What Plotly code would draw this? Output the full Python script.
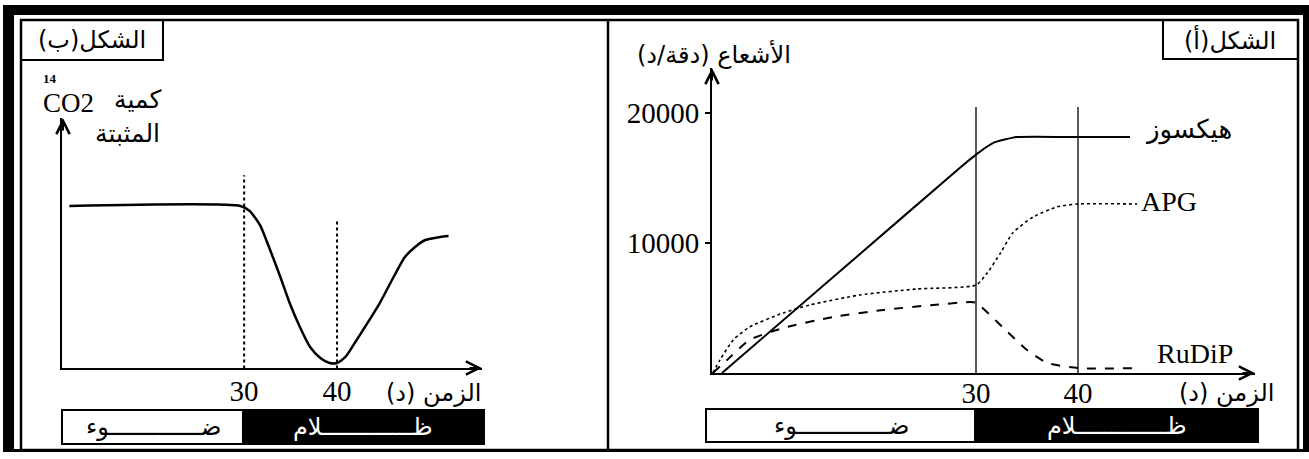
import plotly.graph_objects as go

# الشكل(ب) : كمية 14CO2 المثبتة
t_co2 = [11.2, 29.6, 30.6, 31.7, 32.8, 33.9, 34.9, 36.0, 37.1, 38.2, 39.2, 40.0,
         40.9, 41.9, 43.0, 44.6, 46.2, 47.3, 48.4, 49.5, 51.1, 52.0]
co2_fixe = [100, 100, 96.9, 88.3, 72.8, 56.2, 40.1, 25.3, 13.0, 6.2, 3.1, 3.1,
            6.8, 15.4, 25.3, 40.1, 57.4, 68.5, 74.7, 79.0, 80.9, 81.5]

# الشكل(أ) : الأشعاع (دقة/د)
t_hex = [5.1, 17.0, 28.4, 30.0, 31.7, 34.0, 40.0, 45.1]
hexose = [0, 8050, 15770, 16800, 17700, 18150, 18150, 18150]

t_apg = [4.2, 4.9, 6.2, 7.8, 11.1, 13.7, 18.6, 24.2, 30.0, 31.1, 32.4, 33.6, 35.6, 37.9, 40.0, 45.8]
apg = [0, 1000, 2540, 3540, 4620, 5230, 6000, 6460, 6770, 7690, 9230, 10770, 12000, 12770, 13000, 13000]

t_rudip = [4.2, 5.6, 7.8, 11.1, 16.0, 20.9, 25.8, 29.4, 30.0, 32.6, 35.0, 37.0, 40.0, 46.1]
rudip = [0, 1000, 2540, 3460, 4310, 4850, 5230, 5460, 5400, 3540, 1770, 770, 380, 380]

ticks_t = [30, 40]
ticks_y = [10000, 20000]
lignes_b = [119, 91]        # sommets des pointillés (unités arbitraires)
lignes_a = [20460, 20460]   # sommets des verticales

W, H = 1309, 459
def fx(x):
    return x / W
def fy(y):
    return 1 - y / H

SERIF = "Liberation Serif, DejaVu Sans"
AR = "DejaVu Sans"

fig = go.Figure()

fig.add_trace(go.Scatter(x=t_co2, y=co2_fixe, mode="lines", line=dict(color="black", width=2.5, shape="spline", smoothing=0.6),
                         xaxis="x", yaxis="y", showlegend=False))
fig.add_trace(go.Scatter(x=t_hex, y=hexose, mode="lines", line=dict(color="black", width=2, shape="spline", smoothing=0.5),
                         xaxis="x2", yaxis="y2", showlegend=False))
fig.add_trace(go.Scatter(x=t_apg, y=apg, mode="lines", line=dict(color="black", width=1.6, dash="dot", shape="spline", smoothing=0.6),
                         xaxis="x2", yaxis="y2", showlegend=False))
fig.add_trace(go.Scatter(x=t_rudip, y=rudip, mode="lines", line=dict(color="black", width=2, dash="dash", shape="spline", smoothing=0.6),
                         xaxis="x2", yaxis="y2", showlegend=False))

shapes = []
# cadre
shapes.append(dict(type="rect", xref="paper", yref="paper", x0=fx(3), x1=fx(1309), y0=fy(15), y1=fy(5), fillcolor="black", line_width=0))
shapes.append(dict(type="rect", xref="paper", yref="paper", x0=fx(3), x1=fx(14), y0=fy(452), y1=fy(5), fillcolor="black", line_width=0))
shapes.append(dict(type="rect", xref="paper", yref="paper", x0=fx(1303), x1=fx(1309), y0=fy(452), y1=fy(5), fillcolor="black", line_width=0))
shapes.append(dict(type="rect", xref="paper", yref="paper", x0=fx(3), x1=fx(1309), y0=fy(452), y1=fy(449), fillcolor="black", line_width=0))
shapes.append(dict(type="rect", xref="paper", yref="paper", x0=fx(21), x1=fx(1298), y0=fy(450), y1=fy(20), line=dict(color="black", width=2.5)))
shapes.append(dict(type="line", xref="paper", yref="paper", x0=fx(608), x1=fx(608), y0=fy(450), y1=fy(20), line=dict(color="black", width=2.5)))
# cases des titres
shapes.append(dict(type="rect", xref="paper", yref="paper", x0=fx(21), x1=fx(163), y0=fy(60), y1=fy(20), line=dict(color="black", width=2)))
shapes.append(dict(type="rect", xref="paper", yref="paper", x0=fx(1163), x1=fx(1298), y0=fy(59), y1=fy(20), line=dict(color="black", width=2)))
# bandes lumière / obscurité
shapes.append(dict(type="rect", xref="paper", yref="paper", x0=fx(62), x1=fx(243), y0=fy(444), y1=fy(410), line=dict(color="black", width=2), fillcolor="white"))
shapes.append(dict(type="rect", xref="paper", yref="paper", x0=fx(243), x1=fx(484), y0=fy(444), y1=fy(410), line=dict(color="black", width=2), fillcolor="black"))
shapes.append(dict(type="rect", xref="paper", yref="paper", x0=fx(706), x1=fx(975), y0=fy(442), y1=fy(409), line=dict(color="black", width=2), fillcolor="white"))
shapes.append(dict(type="rect", xref="paper", yref="paper", x0=fx(975), x1=fx(1258), y0=fy(442), y1=fy(409), line=dict(color="black", width=2), fillcolor="black"))
# verticales
for t, top in zip(ticks_t, lignes_b):
    shapes.append(dict(type="line", xref="x", yref="y", x0=t, x1=t, y0=-4, y1=top, line=dict(color="black", width=2, dash="dot")))
for t, top in zip(ticks_t, lignes_a):
    shapes.append(dict(type="line", xref="x2", yref="y2", x0=t, x1=t, y0=-150, y1=top, line=dict(color="black", width=1.3)))

ann = []
def txt(x, y, s, size, color="black", family=AR, xanchor="center"):
    ann.append(dict(x=fx(x), y=fy(y), xref="paper", yref="paper", text=s, showarrow=False,
                    font=dict(family=family, size=size, color=color), xanchor=xanchor, yanchor="middle"))

def arrow(x, y, ax, ay):
    ann.append(dict(x=fx(x), y=fy(y), xref="paper", yref="paper", text="", showarrow=True, ax=ax, ay=ay,
                    arrowhead=5, arrowsize=1.3, arrowwidth=2, arrowcolor="black", standoff=0))

txt(92, 40, "الشكل(ب)", 24)
txt(1230, 40, "الشكل(أ)", 24)
txt(68, 103, "CO2", 27, family=SERIF)
txt(50, 79, "<b>14</b>", 13, family=SERIF)
txt(137, 99, "كمية", 25)
txt(127, 133, "المثبتة", 25)
txt(714, 55, "الأشعاع (دقة/د)", 24)
txt(433, 393, "الزمن (د)", 24)
txt(1226, 393, "الزمن (د)", 24)
txt(1188, 129, "هيكسوز", 26)
txt(1139, 201, "APG", 28, family=SERIF, xanchor="left")
txt(1195, 353, "RuDiP", 28, family=SERIF)
txt(153, 427, "ضـــــــــــــوء", 24)
txt(363, 427, "ظـــــــــــــلام", 24, color="white")
txt(841, 426, "ضـــــــــــــوء", 24)
txt(1117, 426, "ظـــــــــــــلام", 24, color="white")

arrow(482, 368, -14, 0)
arrow(63, 118, 0, 14)
arrow(1255, 373, -14, 0)
arrow(712, 68, 0, 14)

axis_common = dict(showgrid=False, zeroline=False, showline=True, linecolor="black", linewidth=2, fixedrange=True)

fig.update_layout(
    width=W, height=H,
    margin=dict(l=0, r=0, t=0, b=0),
    paper_bgcolor="white", plot_bgcolor="rgba(0,0,0,0)",
    xaxis=dict(domain=[fx(62), fx(482)], range=[10.4, 55.6], tickvals=ticks_t, ticks="",
               tickfont=dict(family=SERIF, size=29, color="black"), ticklabelstandoff=-4, anchor="y", **axis_common),
    yaxis=dict(domain=[fy(368), fy(118)], range=[0, 154.3], showticklabels=False, ticks="", anchor="x", **axis_common),
    xaxis2=dict(domain=[fx(712), fx(1255)], range=[4.12, 57.35], tickvals=ticks_t, ticks="",
                tickfont=dict(family=SERIF, size=29, color="black"), ticklabelstandoff=-7, anchor="y2", **axis_common),
    yaxis2=dict(domain=[fy(373), fy(68)], range=[0, 23460], tickvals=ticks_y, tickformat="d", ticks="outside",
                ticklen=5, tickwidth=1.5, tickcolor="black", tickfont=dict(family=SERIF, size=29, color="black"),
                anchor="x2", **axis_common),
    shapes=shapes,
    annotations=ann,
)

fig.write_html("out.html", config={"displayModeBar": False},
               post_script="document.body.style.margin='0';")
